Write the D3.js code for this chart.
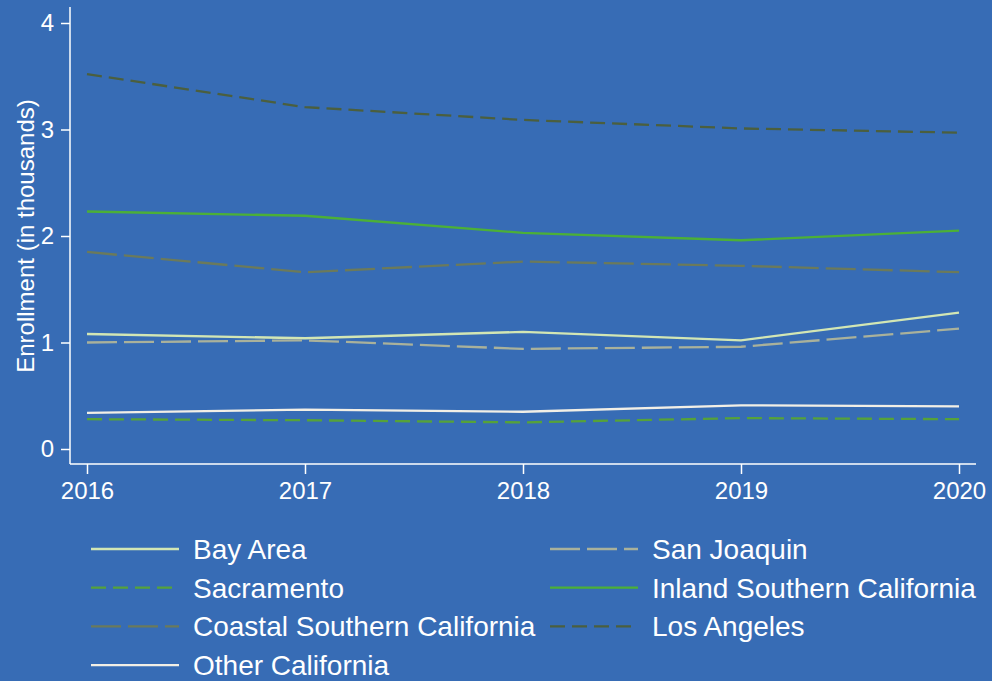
<!DOCTYPE html>
<html><head><meta charset="utf-8">
<script src="https://cdn.jsdelivr.net/npm/d3@7"></script>
<style>body{margin:0;background:#376cb5;}svg{display:block;font-family:"Liberation Sans",Arial,sans-serif;}</style>
</head><body><svg id="c" width="992" height="681"></svg>
<script>
const years = [2016, 2017, 2018, 2019, 2020];
const yTicks = [0, 1, 2, 3, 4];
const seriesNames = ["Bay Area","San Joaquin","Sacramento","Inland Southern California","Coastal Southern California","Los Angeles","Other California"];
const bayArea = [1.08, 1.04, 1.10, 1.02, 1.28];
const sanJoaquin = [1.00, 1.02, 0.94, 0.96, 1.13];
const sacramento = [0.28, 0.27, 0.25, 0.29, 0.28];
const inland = [2.23, 2.19, 2.03, 1.96, 2.05];
const coastal = [1.85, 1.66, 1.76, 1.72, 1.66];
const losAngeles = [3.52, 3.21, 3.09, 3.01, 2.97];
const other = [0.34, 0.37, 0.35, 0.41, 0.40];
const seriesValues = [bayArea, sanJoaquin, sacramento, inland, coastal, losAngeles, other];
const colors = ["#d2e6b4","#a9b19b","#56a23a","#4cb037","#6b7a5b","#4b5f3e","#f2efe6"];
const dashes = [null,"30 7","15 7",null,"30 7","15 7",null];

const svg = d3.select("#c");
const x = d3.scaleLinear().domain([2016, 2020]).range([87, 959]);
const y = d3.scaleLinear().domain([0, 4]).range([449, 23]);
const white = "#ffffff";

svg.append("line").attr("x1",70).attr("x2",70).attr("y1",7).attr("y2",464).attr("stroke",white).attr("stroke-width",1.5);
svg.append("line").attr("x1",70).attr("x2",976).attr("y1",464).attr("y2",464).attr("stroke",white).attr("stroke-width",1.5);

const yAxis = d3.axisLeft(y).tickValues(yTicks).tickSize(9).tickPadding(7).tickFormat(d3.format("d"));
const gy = svg.append("g").attr("transform","translate(70,0)").call(yAxis);
gy.select(".domain").remove();
gy.selectAll("line").attr("stroke",white).attr("stroke-width",1.5);
gy.selectAll("text").attr("fill",white).attr("font-size",24).attr("font-family","Liberation Sans, Arial, sans-serif");

const xAxis = d3.axisBottom(x).tickValues(years).tickSize(10).tickPadding(8).tickFormat(d3.format("d"));
const gx = svg.append("g").attr("transform","translate(0,464)").call(xAxis);
gx.select(".domain").remove();
gx.selectAll("line").attr("stroke",white).attr("stroke-width",1.5);
gx.selectAll("text").attr("fill",white).attr("font-size",24).attr("font-family","Liberation Sans, Arial, sans-serif");

svg.append("text").attr("transform","translate(34,236) rotate(-90)").attr("text-anchor","middle")
  .attr("fill",white).attr("font-size",24).text("Enrollment (in thousands)");

const line = d3.line().x((d,i)=>x(years[i])).y(d=>y(d));
seriesValues.forEach((vals,i)=>{
  svg.append("path").attr("d",line(vals)).attr("fill","none").attr("stroke",colors[i])
    .attr("stroke-width",2.3).attr("stroke-dasharray",dashes[i]);
});

seriesNames.forEach((name,k)=>{
  const col = k%2, row = Math.floor(k/2);
  const lx = col===0 ? 91 : 550;
  const ly = 549 + row*38.7;
  svg.append("line").attr("x1",lx).attr("x2",lx+88).attr("y1",ly).attr("y2",ly)
    .attr("stroke",colors[k]).attr("stroke-width",2.3).attr("stroke-dasharray",dashes[k]);
  svg.append("text").attr("x",lx+102).attr("y",ly+10).attr("fill",white).attr("font-size",28).text(name);
});
</script></body></html>
